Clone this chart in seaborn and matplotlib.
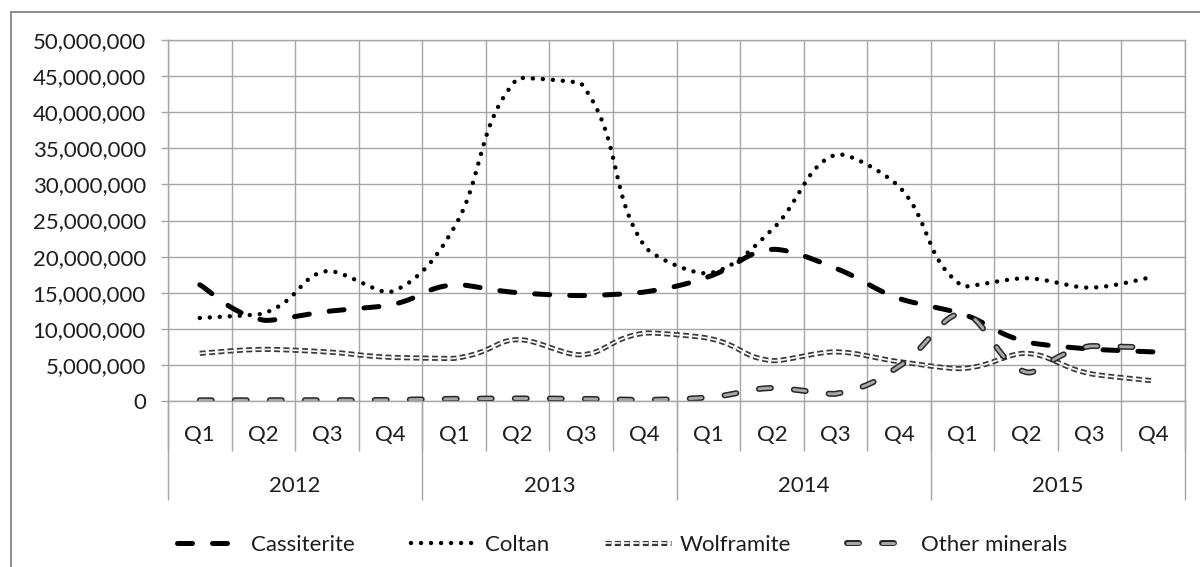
import numpy as np
import matplotlib
matplotlib.use("Agg")
import matplotlib.pyplot as plt
import seaborn as sns
from matplotlib.ticker import FuncFormatter, FixedLocator, NullFormatter
from matplotlib.lines import Line2D
from matplotlib.legend_handler import HandlerTuple
from matplotlib.patches import Rectangle

# ---------------- data ----------------
quarters = ["Q1", "Q2", "Q3", "Q4"] * 4
years = ["2012", "2013", "2014", "2015"]
cassiterite = [16_100_000, 11_200_000, 12_400_000, 13_300_000, 16_100_000, 15_000_000,
               14_600_000, 15_100_000, 17_200_000, 21_000_000, 18_400_000, 14_200_000,
               12_050_000, 8_200_000, 7_200_000, 6_800_000]
coltan = [11_500_000, 12_100_000, 18_000_000, 15_100_000, 24_000_000, 44_700_000,
          44_000_000, 21_400_000, 17_700_000, 23_700_000, 34_100_000, 29_700_000,
          15_900_000, 17_000_000, 15_700_000, 17_200_000]
wolframite = [6_600_000, 7_150_000, 6_800_000, 6_050_000, 5_900_000, 8_500_000,
              6_400_000, 9_400_000, 8_700_000, 5_600_000, 6_800_000, 5_450_000,
              4_500_000, 6_600_000, 3_800_000, 2_800_000]
other_minerals = [100_000, 100_000, 100_000, 150_000, 300_000, 350_000, 300_000, 150_000,
                  500_000, 1_800_000, 1_000_000, 4_800_000, 12_100_000, 4_000_000,
                  7_600_000, 7_400_000]
series_names = ["Cassiterite", "Coltan", "Wolframite", "Other minerals"]

# ---------------- style ----------------
sns.set_theme(style="white")
plt.rcParams["font.family"] = ["Lato", "DejaVu Sans"]
plt.rcParams["lines.scale_dashes"] = False
TXT = "#1e1e1e"
GRID = "#a6a6a6"
FS = 16
YMAX = 50_000_000


def smooth(values, steps=30):
    """Excel-like smoothed line: Bezier segments whose tangents are scaled by
    the neighbouring chord lengths (measured in data units)."""
    v = np.asarray(values, float)
    n = len(v)
    P = np.column_stack([np.arange(n, dtype=float), v])
    d = np.hypot(*np.diff(P, axis=0).T)
    xs, ys = [], []
    for i in range(n - 1):
        p0, p1, p2, p3 = P[max(i - 1, 0)], P[i], P[i + 1], P[min(i + 2, n - 1)]
        dprev = d[i - 1] if i > 0 else d[i]
        dnext = d[i + 1] if i + 1 < n - 1 else d[i]
        c1 = p1 + (p2 - p0) * d[i] / (3.0 * (dprev + d[i]))
        c2 = p2 - (p3 - p1) * d[i] / (3.0 * (d[i] + dnext))
        t = np.linspace(0, 1, steps, endpoint=(i == n - 2))[:, None]
        B = (1 - t) ** 3 * p1 + 3 * (1 - t) ** 2 * t * c1 + 3 * (1 - t) * t ** 2 * c2 + t ** 3 * p2
        xs.append(B[:, 0])
        ys.append(B[:, 1])
    return np.concatenate(xs), np.concatenate(ys)


fig = plt.figure(figsize=(12, 5.67), dpi=100)
ax = fig.add_axes([168 / 1200, 166 / 567, 1017 / 1200, 361 / 567])

# line styles (dash lengths in points)
cas_style = dict(color="black", lw=3.6, linestyle=(0, (10.8, 14.4)), dash_capstyle="round")
col_style = dict(color="black", lw=3.2, linestyle=(0, (0.01, 7.2)), dash_capstyle="round")
wol_outer = dict(color="#383838", lw=3.7, linestyle=(0, (4.3, 2.4)), dash_capstyle="butt")
wol_inner = dict(color="white", lw=1.2, linestyle=(0, (4.3, 2.4)), dash_capstyle="butt")
oth_outer = dict(color="#262626", lw=4.3, linestyle=(0, (8.6, 16.6)), dash_capstyle="round")
oth_inner = dict(color="#a8a8a8", lw=2.1, linestyle=(0, (8.6, 16.6)), dash_capstyle="round")

x, y = smooth(cassiterite)
sns.lineplot(x=x, y=y, ax=ax, sort=False, estimator=None, **cas_style)
x, y = smooth(coltan)
sns.lineplot(x=x, y=y, ax=ax, sort=False, estimator=None, **col_style)
x, y = smooth(wolframite)
sns.lineplot(x=x, y=y, ax=ax, sort=False, estimator=None, **wol_outer)
sns.lineplot(x=x, y=y, ax=ax, sort=False, estimator=None, **wol_inner)
x, y = smooth(other_minerals)
sns.lineplot(x=x, y=y, ax=ax, sort=False, estimator=None, **oth_outer)
sns.lineplot(x=x, y=y, ax=ax, sort=False, estimator=None, **oth_inner)

# ---------------- axes ----------------
n = len(quarters)
ax.set_xlim(-0.5, n - 0.5)
ax.set_ylim(0, YMAX)
ax.set_xlabel("")
ax.set_ylabel("")

ax.xaxis.set_major_locator(FixedLocator(np.arange(-0.5, n, 1.0)))
ax.xaxis.set_major_formatter(NullFormatter())
ax.xaxis.set_minor_locator(FixedLocator(np.arange(n)))
ax.set_xticklabels(quarters, minor=True)
ax.tick_params(axis="x", which="major", bottom=True, length=36, width=1, color=GRID, direction="out")
ax.tick_params(axis="x", which="minor", bottom=True, length=0, pad=17, labelsize=FS, labelcolor=TXT)

ax.yaxis.set_major_locator(FixedLocator(np.arange(0, YMAX + 1, 5_000_000)))
ax.yaxis.set_major_formatter(FuncFormatter(lambda v, p: f"{int(round(v)):,}"))
ax.tick_params(axis="y", which="major", left=True, length=5, width=1, color=GRID, pad=11,
               labelsize=FS, labelcolor=TXT, direction="out")

ax.grid(True, which="major", color=GRID, lw=1)
for s in ax.spines.values():
    s.set_color(GRID)
    s.set_linewidth(1)

# year level of the category axis
sec = ax.secondary_xaxis("bottom")
sec.xaxis.set_major_locator(FixedLocator(np.arange(-0.5, n, 4.0)))
sec.xaxis.set_major_formatter(NullFormatter())
sec.set_xticks(np.arange(1.5, n, 4.0), years, minor=True)
sec.tick_params(axis="x", which="major", length=71, width=1, color=GRID, direction="out")
sec.tick_params(axis="x", which="minor", length=0, pad=54, labelsize=FS, labelcolor=TXT)
sec.spines["bottom"].set_visible(False)

# ---------------- legend ----------------
fpx = FS / 0.72
handles = [
    Line2D([], [], **cas_style),
    Line2D([], [], **col_style),
    (Line2D([], [], **wol_outer), Line2D([], [], **wol_inner)),
    (Line2D([], [], **oth_outer), Line2D([], [], **oth_inner)),
]
fig.legend(handles, series_names, handler_map={tuple: HandlerTuple(ndivide=1, pad=0)},
           ncol=4, loc="center", bbox_to_anchor=(622 / 1200, 22 / 567), frameon=False,
           fontsize=FS, labelcolor=TXT, handlelength=66 / fpx, handletextpad=8 / fpx,
           columnspacing=56 / fpx, borderaxespad=0, borderpad=0)

# outer chart frame (cut off at right and bottom)
fig.add_artist(Rectangle((11 / 1200, -0.1), 2, 555 / 567 + 0.1, transform=fig.transFigure,
                         fill=False, edgecolor="#8c8c8c", lw=1.4, clip_on=False))

fig.savefig("out.png", dpi=100)
